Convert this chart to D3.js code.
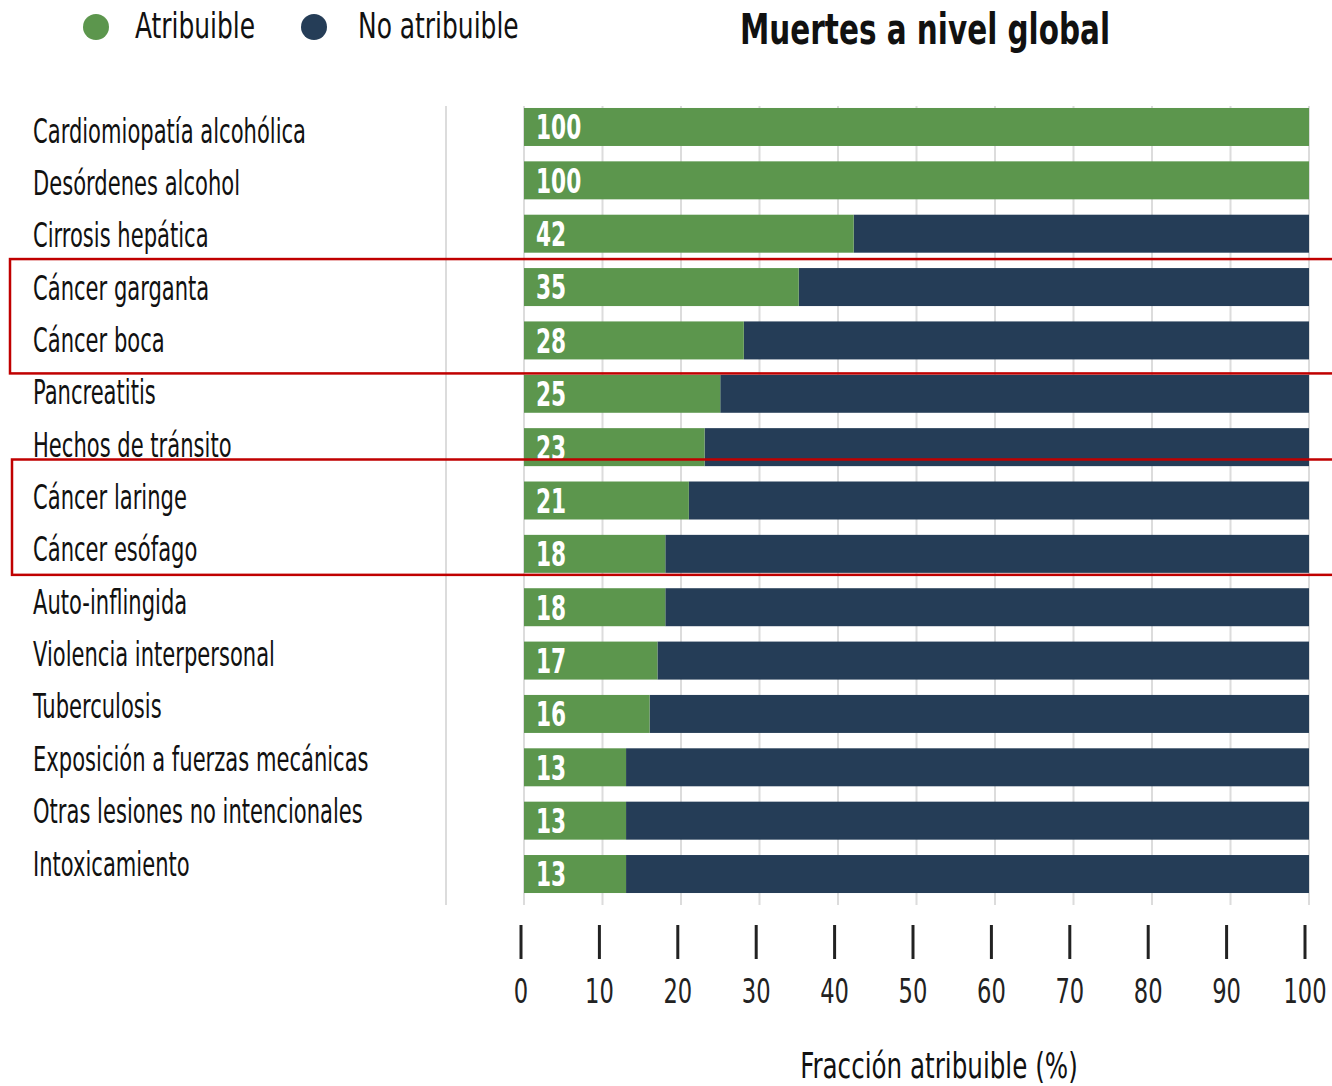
<!DOCTYPE html>
<html>
<head>
<meta charset="utf-8">
<script src="https://cdn.jsdelivr.net/npm/d3@7"></script>
<style>
  body { margin: 0; background: #fff; }
  text { font-family: "Liberation Sans Narrow", "DejaVu Sans Condensed", sans-serif; }
</style>
</head>
<body>
<div class="viz"></div>
<script>
// data
const categories = [
  'Cardiomiopatía alcohólica', 'Desórdenes alcohol', 'Cirrosis hepática',
  'Cáncer garganta', 'Cáncer boca', 'Pancreatitis', 'Hechos de tránsito',
  'Cáncer laringe', 'Cáncer esófago', 'Auto-inflingida', 'Violencia interpersonal',
  'Tuberculosis', 'Exposición a fuerzas mecánicas', 'Otras lesiones no intencionales',
  'Intoxicamiento'
]
const attributable = [100, 100, 42, 35, 28, 25, 23, 21, 18, 18, 17, 16, 13, 13, 13]
const tickValues = [0, 10, 20, 30, 40, 50, 60, 70, 80, 90, 100]
const seriesNames = ['Atribuible', 'No atribuible']
// highlighted groups (first and last category of each box)
const highlights = [['Cáncer garganta', 'Cáncer boca'], ['Cáncer laringe', 'Cáncer esófago']]

const width = 1332
const height = 1086
const green = '#5c964d'
const navy = '#253d57'
const sx = 0.71   // squeeze text to look like a condensed face

const svg = d3.select('.viz')
  .append('svg')
  .attr('width', width)
  .attr('height', height)

const x = d3.scaleLinear().domain([0, 100]).range([524, 1309])
const xTicks = d3.scaleLinear().domain([0, 100]).range([521, 1305])
const y = d3.scaleBand().domain(categories).range([100.3, 900.7]).paddingInner(0.288).paddingOuter(0.144)
const yLabel = d3.scalePoint().domain(categories).range([131, 864])

const cText = (g, tx, ty, str, size, opts = {}) => {
  return g.append('text')
    .attr('transform', `translate(${tx},${ty}) scale(${opts.sx || sx},1)`)
    .attr('font-size', size)
    .attr('font-weight', opts.bold ? 'bold' : 'normal')
    .attr('fill', opts.fill || '#111')
    .attr('text-anchor', opts.anchor || 'start')
    .attr('dominant-baseline', 'central')
    .text(str)
}

// grid lines
svg.append('g')
  .selectAll('line')
  .data(tickValues)
  .enter()
  .append('line')
  .attr('x1', d => x(d)).attr('x2', d => x(d))
  .attr('y1', 106).attr('y2', 905)
  .attr('stroke', '#dcdcdc')
  .attr('stroke-width', 2)

svg.append('line')
  .attr('x1', 446).attr('x2', 446)
  .attr('y1', 106).attr('y2', 905)
  .attr('stroke', '#dcdcdc')
  .attr('stroke-width', 2)

// bars
const rows = svg.append('g')
  .selectAll('g')
  .data(categories.map((c, i) => ({ c, v: attributable[i] })))
  .enter()
  .append('g')

rows.append('rect')
  .attr('x', d => x(d.v))
  .attr('width', d => x(100) - x(d.v))
  .attr('y', d => y(d.c))
  .attr('height', y.bandwidth())
  .attr('fill', navy)

rows.append('rect')
  .attr('x', x(0))
  .attr('width', d => x(d.v) - x(0))
  .attr('y', d => y(d.c))
  .attr('height', y.bandwidth())
  .attr('fill', green)

rows.each(function (d) {
  cText(d3.select(this), x(0) + 12, y(d.c) + y.bandwidth() / 2 + 1, d.v, 33, { bold: true, fill: '#fff', sx: 0.73 })
})

// category labels
categories.forEach(c => cText(svg, 33, yLabel(c), c, 33))

// highlight boxes
const boxPad = [[9, 14, 10], [22, 2, 12]]   // above, below, left edge
highlights.forEach(([a, b], i) => {
  const top = y(a) - boxPad[i][0]
  const bottom = y(b) + y.bandwidth() + boxPad[i][1]
  svg.append('rect')
    .attr('x', boxPad[i][2])
    .attr('y', top)
    .attr('width', 1340)
    .attr('height', bottom - top)
    .attr('fill', 'none')
    .attr('stroke', '#c00000')
    .attr('stroke-width', 2.5)
})

// bottom ticks
const axis = svg.append('g')
tickValues.forEach(t => {
  axis.append('line')
    .attr('x1', xTicks(t)).attr('x2', xTicks(t))
    .attr('y1', 925).attr('y2', 959)
    .attr('stroke', '#222')
    .attr('stroke-width', 3)
  cText(axis, xTicks(t), 991, t, 34, { anchor: 'middle', fill: '#222', sx: 0.74 })
})

cText(svg, 939, 1066, 'Fracción atribuible (%)', 36, { anchor: 'middle', sx: 0.76 })

// legend
const legendX = [96, 314]
const legendTextX = [135, 358]
seriesNames.forEach((s, i) => {
  svg.append('circle')
    .attr('cx', legendX[i]).attr('cy', 27).attr('r', 13)
    .attr('fill', i === 0 ? green : navy)
  cText(svg, legendTextX[i], 26, s, 36, { sx: 0.77 })
})

// title
cText(svg, 925, 30, 'Muertes a nivel global', 42, { bold: true, anchor: 'middle', sx: 0.78 })
</script>
</body>
</html>
